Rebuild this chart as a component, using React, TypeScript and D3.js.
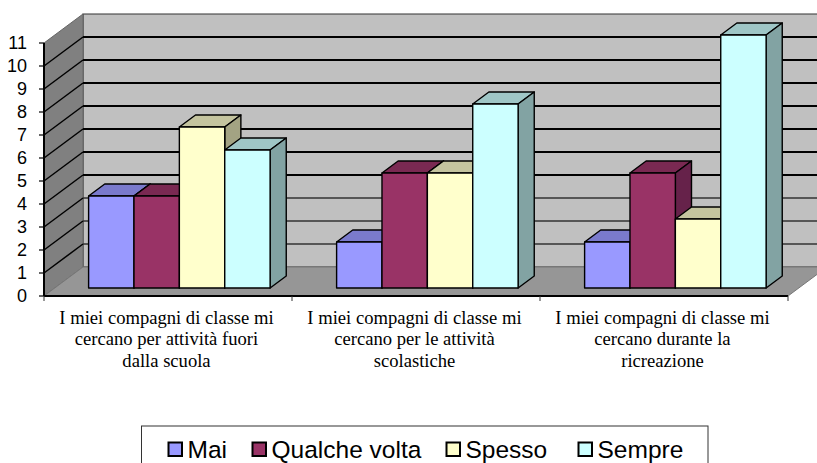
import * as d3 from "d3";

const categories = [
  ["I miei compagni di classe mi", "cercano per attività fuori", "dalla scuola"],
  ["I miei compagni di classe mi", "cercano per le attività", "scolastiche"],
  ["I miei compagni di classe mi", "cercano durante la", "ricreazione"],
];
const seriesNames = ["Mai", "Qualche volta", "Spesso", "Sempre"];
const mai = [4, 2, 2];
const qualcheVolta = [4, 5, 5];
const spesso = [7, 5, 3];
const sempre = [6, 8, 11];
const seriesValues = [mai, qualcheVolta, spesso, sempre];
const yTicks = d3.range(0, 12);

const frontColors = ["#9999ff", "#993366", "#ffffcc", "#ccffff"];
const topColors = ["#7a7acc", "#7a2952", "#c4c49f", "#9fc6c6"];
const sideColors = ["#5c5c99", "#66224a", "#a3a383", "#82a3a3"];

const width = 817;
const height = 463;

// front plane of the 3D box
const x0 = d3.scaleBand<number>().domain([0, 1, 2]).range([44, 788]);
const y = d3.scaleLinear().domain([0, 11]).range([296, 43]);
// depth goes from 0 (front) to 1 (back wall)
const depthX = 39;
const depthY = -29;
const barDepthFront = 8 / 29;
const barDepthBack = 20 / 29;

const pt = (x: number, yy: number, z: number) =>
  `${x + depthX * z},${yy + depthY * z}`;
const poly = (pts: string[]) => pts.join(" ");

export default function App() {
  const groupWidth = x0.bandwidth();
  const barsWidth = 181.5;
  const x1 = d3
    .scaleBand<number>()
    .domain([0, 1, 2, 3])
    .range([(groupWidth - barsWidth) / 2 + 0.6, (groupWidth + barsWidth) / 2 + 0.6]);
  const [xL, xR] = x0.range();

  return (
    <svg
      width={width}
      height={height}
      style={{ position: "absolute", left: 0, top: 0, background: "#fff" }}
    >
      {/* walls and floor */}
      <polygon
        points={poly([pt(xL, y(0), 1), pt(xR, y(0), 1), pt(xR, y(11), 1), pt(xL, y(11), 1)])}
        fill="#c0c0c0"
        stroke="#333"
        strokeWidth={1.2}
      />
      <polygon
        points={poly([pt(xL, y(0), 0), pt(xL, y(0), 1), pt(xL, y(11), 1), pt(xL, y(11), 0)])}
        fill="#808080"
        stroke="#666"
        strokeWidth={1}
      />
      <polygon
        points={poly([pt(xL, y(0), 0), pt(xR, y(0), 0), pt(xR, y(0), 1), pt(xL, y(0), 1)])}
        fill="#969696"
        stroke="#777"
        strokeWidth={1}
      />

      {/* gridlines: the lower ones come out lighter in the original */}
      {yTicks
        .filter((t) => t > 0 && t < 11)
        .map((t) => (
          <g key={t} fill="none">
            <polyline
              points={poly([pt(xL, y(t), 1), pt(xR, y(t), 1)])}
              stroke={t <= 3 ? "#333" : "#000"}
              strokeWidth={t <= 3 ? 1.7 : 2}
            />
            <line
              x1={xL}
              y1={y(t)}
              x2={xL + depthX}
              y2={y(t) + depthY}
              stroke="#000"
              strokeWidth={1.5}
            />
          </g>
        ))}

      {/* bars, left to right so each one covers the side of the previous */}
      {categories.map((_, g) =>
        seriesValues.map((values, s) => {
          const left = x0(g)! + x1(s)!;
          const right = left + x1.bandwidth();
          const top = y(values[g]);
          const base = y(0);
          const f = barDepthFront;
          const b = barDepthBack;
          return (
            <g key={`${g}-${s}`} stroke="#000" strokeWidth={1.4} strokeLinejoin="round">
              <polygon
                points={poly([pt(left, top, f), pt(right, top, f), pt(right, top, b), pt(left, top, b)])}
                fill={topColors[s]}
              />
              <polygon
                points={poly([pt(right, base, f), pt(right, top, f), pt(right, top, b), pt(right, base, b)])}
                fill={sideColors[s]}
              />
              <polygon
                points={poly([pt(left, base, f), pt(right, base, f), pt(right, top, f), pt(left, top, f)])}
                fill={frontColors[s]}
              />
            </g>
          );
        })
      )}

      {/* axes */}
      <line x1={xL} x2={xL} y1={y(0)} y2={y(11)} stroke="#000" strokeWidth={2} />
      <line x1={xL} x2={xR} y1={y(0)} y2={y(0)} stroke="#000" strokeWidth={2} />
      {yTicks.map((t) => (
        <g key={t}>
          <line x1={xL - 5} x2={xL} y1={y(t)} y2={y(t)} stroke="#000" strokeWidth={1.2} />
          <text
            x={27}
            y={y(t)}
            dy="0.36em"
            textAnchor="end"
            fontFamily="'Liberation Sans', Arial, sans-serif"
            fontSize={18}
            fill="#000"
          >
            {t}
          </text>
        </g>
      ))}
      {[0, 1, 2, 3].map((i) => {
        const xt = xL + i * groupWidth;
        return <line key={i} x1={xt} x2={xt} y1={y(0)} y2={y(0) + 5} stroke="#333" strokeWidth={1} />;
      })}

      {/* category labels */}
      {categories.map((lines, g) => (
        <text
          key={g}
          textAnchor="middle"
          fontFamily="'Liberation Serif', 'Times New Roman', serif"
          fontSize={18.6}
          fill="#000"
        >
          {lines.map((line, i) => (
            <tspan key={i} x={x0(g)! + groupWidth / 2 - 1.5} y={324 + i * 21.3}>
              {line}
            </tspan>
          ))}
        </text>
      ))}

      {/* legend */}
      <rect x={141.5} y={426} width={566.5} height={40} fill="#fff" stroke="#333" strokeWidth={1} />
      {seriesNames.map((name, i) => {
        const swatchX = [168.5, 252.5, 446.5, 578.5][i];
        return (
          <g key={name}>
            <rect x={swatchX} y={442.5} width={13.5} height={13.5} fill={frontColors[i]} stroke="#000" strokeWidth={2} />
            <text
              x={swatchX + 19}
              y={458}
              fontFamily="'Liberation Sans', Arial, sans-serif"
              fontSize={24.5}
              fill="#000"
            >
              {name}
            </text>
          </g>
        );
      })}
    </svg>
  );
}
